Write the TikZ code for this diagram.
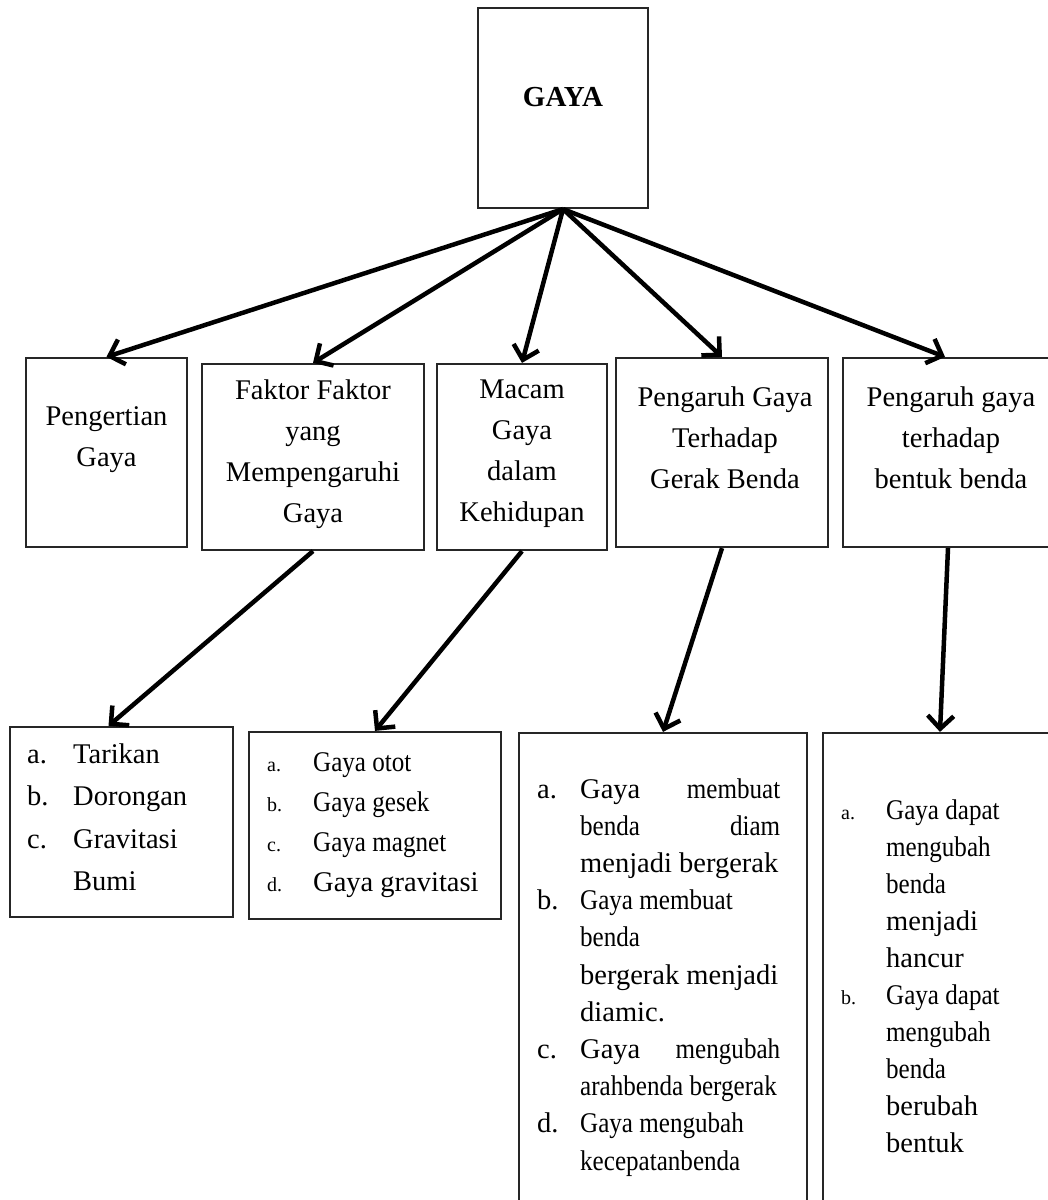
\documentclass[tikz,border=0pt]{standalone}
\usepackage{fontspec}
\setmainfont{Liberation Serif}
\usepackage{graphicx,array}
\usepackage{tikz}
\usetikzlibrary{arrows.meta}
\tikzset{
  box/.style  = {draw=black!85, line width=2.2pt, inner sep=0pt},
  arr/.style  = {line width=4.5pt, -{Straight Barb[length=13pt,width=26pt]}},
  ttl/.style  = {font=\fontsize{28.5}{41}\selectfont, align=center, inner sep=0pt},
  head/.style = {font=\fontsize{29}{35}\selectfont\bfseries, inner sep=0pt},
  lst/.style  = {anchor=base west, inner sep=0pt},
}
\newcommand{\cnd}[1]{\scalebox{0.88}[1]{#1}}
\newcommand{\sml}[1]{{\fontsize{20}{20}\selectfont #1}}

\begin{document}
\begin{tikzpicture}[x=1pt, y=-1pt]
  \useasboundingbox (0,0) rectangle (1048,1200);
  % top
  \node[box, minimum width=170pt, minimum height=200pt] (gaya) at (563,108) {};
  \node[head] (tgaya) at (563,97) {GAYA};
  % second row
  \node[box, minimum width=161pt, minimum height=189pt] (pengertian) at (106.5,452.5) {};
  \node[box, minimum width=222pt, minimum height=186pt] (faktor) at (313,457) {};
  \node[box, minimum width=170pt, minimum height=186pt] (macam) at (522,457) {};
  \node[box, minimum width=212pt, minimum height=189pt] (gerak) at (722,452.5) {};
  \node[box, minimum width=216pt, minimum height=189pt] (bentuk) at (951,452.5) {};
  \node[ttl] (tpengertian) at (106.5,440) {Pengertian\\Gaya};
  \node[ttl] (tfaktor) at (313,454) {Faktor Faktor\\yang\\Mempengaruhi\\Gaya};
  \node[ttl] (tmacam) at (522,454) {Macam\\Gaya\\dalam\\Kehidupan};
  \node[ttl] (tgerak) at (725,438) {Pengaruh Gaya\\Terhadap\\Gerak Benda};
  \node[ttl] (tbentuk) at (951,438) {Pengaruh gaya\\terhadap\\bentuk benda};
  % third row
  \node[box, minimum width=223pt, minimum height=190pt] (tarikan) at (121.5,822) {};
  \node[box, minimum width=252pt, minimum height=187pt] (jenis) at (375,825.5) {};
  \node[box, minimum width=288pt, minimum height=497pt] (ketgerak) at (663,981.5) {};
  \node[box, minimum width=234pt, minimum height=497pt] (ketbentuk) at (940,981.5) {};
  \node[lst, font=\fontsize{28.5}{42.5}\selectfont] (ltarikan) at (27,763) {%
    \begin{tabular}[t]{@{}p{46pt}@{}l@{}}
      a. & Tarikan\\
      b. & Dorongan\\
      c. & Gravitasi\\
         & Bumi
    \end{tabular}};
  \node[lst, font=\fontsize{28.5}{40}\selectfont] (ljenis) at (267,771) {%
    \begin{tabular}[t]{@{}p{46pt}@{}l@{}}
      \sml{a.} & \cnd{Gaya otot}\\
      \sml{b.} & \cnd{Gaya gesek}\\
      \sml{c.} & \cnd{Gaya magnet}\\
      \sml{d.} & Gaya gravitasi
    \end{tabular}};
  \node[lst, font=\fontsize{28.5}{37.2}\selectfont] (lketgerak) at (537,798) {%
    \begin{tabular}[t]{@{}p{43pt}@{}p{200pt}@{}}
      a. & Gaya \hfill \cnd{membuat}\\
         & \cnd{benda} \hfill \cnd{diam}\\
         & menjadi bergerak\\
      b. & \cnd{Gaya membuat}\\
         & \cnd{benda}\\
         & bergerak menjadi\\
         & diamic.\\
      c. & Gaya \hfill \cnd{mengubah}\\
         & \cnd{arahbenda bergerak}\\
      d. & \cnd{Gaya mengubah}\\
         & \cnd{kecepatanbenda}
    \end{tabular}};
  \node[lst, font=\fontsize{28.5}{37}\selectfont] (lketbentuk) at (841,819) {%
    \begin{tabular}[t]{@{}p{45pt}@{}l@{}}
      \sml{a.} & \cnd{Gaya dapat}\\
               & \cnd{mengubah}\\
               & \cnd{benda}\\
               & menjadi\\
               & hancur\\
      \sml{b.} & \cnd{Gaya dapat}\\
               & \cnd{mengubah}\\
               & \cnd{benda}\\
               & berubah\\
               & bentuk
    \end{tabular}};
  % arrows
  \draw[arr] (gaya.south) -- (pengertian.north);
  \draw[arr] (gaya.south) -- (faktor.north);
  \draw[arr] (gaya.south) -- (macam.north);
  \draw[arr] (gaya.south) -- (gerak.north);
  \draw[arr] (gaya.south) -- ([xshift=-6pt]bentuk.north);
  \draw[arr] (faktor.south) -- ([xshift=-13pt]tarikan.north);
  \draw[arr] (macam.south) -- (jenis.north);
  \draw[arr] (gerak.south) -- (ketgerak.north);
  \draw[arr] ([xshift=-3pt]bentuk.south) -- (ketbentuk.north);
\end{tikzpicture}
\end{document}
